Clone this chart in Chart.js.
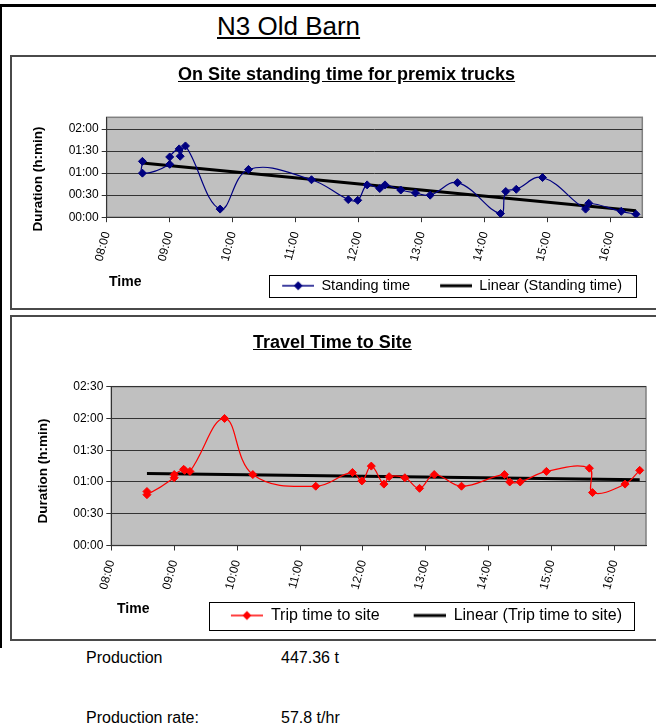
<!DOCTYPE html>
<html><head><meta charset="utf-8">
<script src="https://cdn.jsdelivr.net/npm/chart.js@4.4.0/dist/chart.umd.min.js"></script>
<style>
html,body{margin:0;padding:0;background:#fff;}
body{width:656px;height:725px;position:relative;overflow:hidden;font-family:"Liberation Sans",Arial,sans-serif;color:#000;}
.abs{position:absolute;white-space:nowrap;}
#frame{position:absolute;left:0;top:4px;width:720px;height:644px;border-top:3px solid #000;border-left:2px solid #000;box-sizing:border-box;}
.box{position:absolute;left:10px;width:720px;border:2px solid #4a4a4a;box-sizing:border-box;background:#fff;}
#box1{top:55px;height:255px;}
#box2{top:315px;height:326px;}
canvas{position:absolute;}
.ttl{font-size:18px;line-height:18px;font-weight:bold;text-decoration:underline;}
.tm{font-size:14px;line-height:14px;font-weight:bold;}
.prod{font-size:16px;line-height:16px;}
.ytl{position:absolute;white-space:nowrap;font-size:13.5px;line-height:14px;font-weight:bold;transform:translate(-50%,-50%) rotate(-90deg);}
</style></head><body>
<div id="frame"></div>
<div class="abs" style="left:217px;top:13px;font-size:26px;line-height:26px;text-decoration:underline;">N3 Old Barn</div>
<div class="box" id="box1"></div>
<div class="box" id="box2"></div>
<canvas id="c1" width="644" height="251" style="left:12px;top:57px;"></canvas>
<canvas id="c2" width="644" height="322" style="left:12px;top:317px;"></canvas>
<div class="abs ttl" style="left:178px;top:65px;">On Site standing time for premix trucks</div>
<div class="abs ttl" style="left:253px;top:333px;">Travel Time to Site</div>
<div class="ytl" style="left:38px;top:179px;">Duration (h:min)</div>
<div class="ytl" style="left:43px;top:471px;">Duration (h:min)</div>
<div class="abs tm" style="left:109px;top:274px;">Time</div>
<div class="abs tm" style="left:117px;top:601px;">Time</div>
<div class="abs prod" style="left:86px;top:650px;">Production</div>
<div class="abs prod" style="left:281px;top:650px;">447.36 t</div>
<div class="abs prod" style="left:86px;top:710px;">Production rate:</div>
<div class="abs prod" style="left:281px;top:710px;">57.8 t/hr</div>
<script>
// ---- data ----
const times = ['08:34','08:34','09:00','09:00','09:09','09:10','09:15','09:48','10:15','11:15','11:50','11:59','12:08','12:20','12:25','12:40','12:54','13:08','13:34','14:15','14:20','14:30','14:55','15:36','15:39','16:10','16:24'];
const standingTime = ['1:16','1:00','1:12','1:22','1:33','1:23','1:37','0:11','1:05','0:51','0:24','0:23','0:44','0:39','0:44','0:37','0:33','0:30','0:47','0:05','0:35','0:38','0:54','0:11','0:19','0:08','0:04'];
const tripTime = ['0:51','0:48','1:04','1:07','1:12','1:11','1:10','2:00','1:07','0:56','1:09','1:01','1:15','0:58','1:05','1:04','0:54','1:07','0:56','1:07','1:00','1:00','1:10','1:13','0:50','0:58','1:11'];
const xTickLabels = ['08:00','09:00','10:00','11:00','12:00','13:00','14:00','15:00','16:00'];
const xRange = ['08:00','16:30'];
const yTickLabels1 = ['00:00','00:30','01:00','01:30','02:00'];
const yMax1 = '02:16';
const yTickLabels2 = ['00:00','00:30','01:00','01:30','02:00','02:30'];
const yMax2 = '02:30';

function mins(s){const p=s.split(':').map(Number);return p[0]*60+p[1];}
function series(vals){return times.map((t,i)=>({x:mins(t),y:mins(vals[i])}));}
function trend(pts){
  const n=pts.length; let sx=0,sy=0,sxx=0,sxy=0;
  pts.forEach(p=>{sx+=p.x;sy+=p.y;sxx+=p.x*p.x;sxy+=p.x*p.y;});
  const b=(n*sxy-sx*sy)/(n*sxx-sx*sx), a=(sy-b*sx)/n;
  const xs=pts.map(p=>p.x), x0=Math.min(...xs), x1=Math.max(...xs);
  return [{x:x0,y:a+b*x0},{x:x1,y:a+b*x1}];
}
function legendImg(color, diamond, lw, margin, len){
  const c=document.createElement('canvas'); c.width=margin+len; c.height=12;
  const g=c.getContext('2d'); g.strokeStyle=color; g.lineWidth=lw;
  g.beginPath(); g.moveTo(margin,6); g.lineTo(margin+len,6); g.stroke();
  const cx=margin+len/2;
  if(diamond){g.fillStyle=color;g.beginPath();g.moveTo(cx-4.5,6);g.lineTo(cx,1.5);g.lineTo(cx+4.5,6);g.lineTo(cx,10.5);g.closePath();g.fill();}
  return c;
}

Chart.defaults.font.family="'Liberation Sans', Arial, sans-serif";
Chart.defaults.color='#000';

const plotBg={id:'plotBg',beforeDraw(chart){
  const a=chart.chartArea,ctx=chart.ctx; ctx.save();
  ctx.fillStyle='#c0c0c0'; ctx.fillRect(a.left,a.top,a.right-a.left,a.bottom-a.top);
  ctx.strokeStyle='#808080'; ctx.lineWidth=1.5; ctx.strokeRect(a.left,a.top,a.right-a.left,a.bottom-a.top);
  ctx.restore();
}};
const legendFrame={id:'legendFrame',
  afterLayout(chart,args,opts){
    const L=chart.legend; if(!L) return;
    const endX=L.right-L.options.labels.padding; const dx=opts.textEnd-endX;
    L.left+=dx; L.right+=dx;
  },
  afterDraw(chart,args,opts){
    const L=chart.legend; const hb=L.legendHitBoxes; if(!hb||!hb.length) return;
    const ctx=chart.ctx; const cy=hb[0].top+hb[0].height/2;
    const x0=hb[0].left+opts.margin-opts.padL, x1=hb[hb.length-1].left+hb[hb.length-1].width+opts.padR;
    ctx.save(); ctx.strokeStyle='#000'; ctx.lineWidth=1;
    ctx.strokeRect(Math.round(x0)+0.5,Math.round(cy-opts.halfH)+0.5,Math.round(x1-x0),Math.round(2*opts.halfH));
    ctx.restore();
  }
};

function makeChart(id, cfg){
  const pts=series(cfg.values);
  const m=cfg.frame.margin, len=cfg.markLen;
  const imgs=[legendImg(cfg.color,true,1.5,m,len),legendImg('#000',false,3,m,len)];
  return new Chart(document.getElementById(id),{
    type:'line',
    data:{datasets:[
      {label:cfg.label,data:pts,borderColor:cfg.color,backgroundColor:cfg.color,borderWidth:1.2,
       pointStyle:'rectRot',pointRadius:4,pointBorderWidth:1,tension:0.4,fill:false},
      {label:'Linear ('+cfg.label+')',data:trend(pts),borderColor:'#000',backgroundColor:'#000',borderWidth:3,pointRadius:0,tension:0,fill:false}
    ]},
    plugins:[plotBg,legendFrame],
    options:{
      responsive:false,animation:false,devicePixelRatio:1,
      layout:{padding:cfg.pad},
      plugins:{
        tooltip:{enabled:false},
        legendFrame:cfg.frame,
        legend:{position:'bottom',align:'end',labels:{
          font:{size:cfg.legendFont},color:'#000',padding:5,usePointStyle:true,pointStyleWidth:m+len,boxHeight:cfg.legendFont,
          generateLabels(chart){
            const items=Chart.defaults.plugins.legend.labels.generateLabels(chart);
            items.forEach((it,i)=>{it.pointStyle=imgs[i];});
            return items;
          }}}
      },
      scales:{
        x:{type:'linear',min:mins(xRange[0]),max:mins(xRange[1]),
          afterBuildTicks(s){s.ticks=xTickLabels.map(l=>({value:mins(l)}));},
          afterFit(s){s.height=cfg.xH;},
          grid:{drawOnChartArea:false,drawTicks:true,tickLength:5,color:'#333'},
          border:{color:'#333',width:1},
          ticks:{autoSkip:false,minRotation:75,maxRotation:75,font:{size:12},color:'#000',padding:8,
            callback(v,i){return xTickLabels[i];}}},
        y:{min:0,max:mins(cfg.yMax),
          afterBuildTicks(s){s.ticks=cfg.yTicks.map(l=>({value:mins(l)}));},
          afterFit(s){s.width=cfg.yW;},
          grid:{color:'#333',tickLength:5,lineWidth:1},
          border:{color:'#333',width:1},
          ticks:{font:{size:12},color:'#000',padding:3,callback(v,i){return cfg.yTicks[i];}}}
      }
    }
  });
}

makeChart('c1',{values:standingTime,label:'Standing time',color:'#000080',
  pad:{left:0,right:13.7,top:60.3,bottom:5},xH:56.3,yW:94.7,yMax:yMax1,yTicks:yTickLabels1,
  legendFont:14.5,markLen:32,frame:{textEnd:610,padL:13,padR:14,halfH:11,margin:25}});
makeChart('c2',{values:tripTime,label:'Trip time to site',color:'#ff0000',
  pad:{left:0,right:10,top:69.7,bottom:5.5},xH:57,yW:99.3,yMax:yMax2,yTicks:yTickLabels2,
  legendFont:16,markLen:32,frame:{textEnd:610,padL:22,padR:12,halfH:14,margin:29}});
</script>
</body></html>
